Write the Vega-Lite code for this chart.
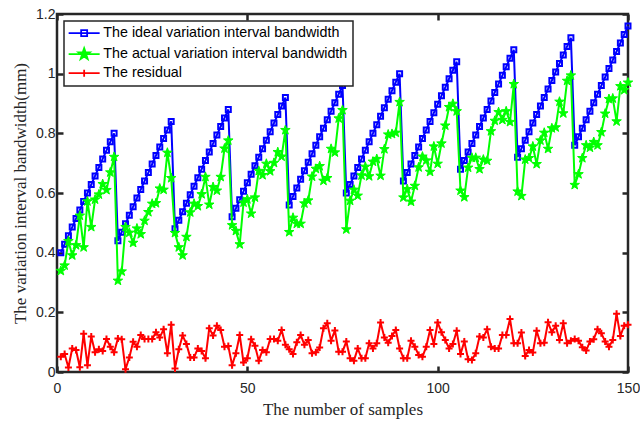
{
  "$schema": "https://vega.github.io/schema/vega-lite/v6.json",
  "autosize": {"type": "none"},
  "padding": {"left": 57, "top": 14, "right": 12, "bottom": 51},
  "width": 571,
  "height": 358,
  "background": "white",
  "data": {"values": [
    {"n":1,"ideal":0.4,"actual":0.339,"residual":0.051},
    {"n":2,"ideal":0.4286,"actual":0.357,"residual":0.060},
    {"n":3,"ideal":0.4571,"actual":0.439,"residual":0.015},
    {"n":4,"ideal":0.4857,"actual":0.391,"residual":0.079},
    {"n":5,"ideal":0.5143,"actual":0.425,"residual":0.074},
    {"n":6,"ideal":0.5429,"actual":0.524,"residual":0.016},
    {"n":7,"ideal":0.5714,"actual":0.418,"residual":0.128},
    {"n":8,"ideal":0.6,"actual":0.572,"residual":0.023},
    {"n":9,"ideal":0.6286,"actual":0.486,"residual":0.119},
    {"n":10,"ideal":0.6571,"actual":0.578,"residual":0.066},
    {"n":11,"ideal":0.6857,"actual":0.595,"residual":0.076},
    {"n":12,"ideal":0.7143,"actual":0.630,"residual":0.070},
    {"n":13,"ideal":0.7429,"actual":0.610,"residual":0.111},
    {"n":14,"ideal":0.7714,"actual":0.669,"residual":0.085},
    {"n":15,"ideal":0.8,"actual":0.721,"residual":0.066},
    {"n":16,"ideal":0.44,"actual":0.306,"residual":0.112},
    {"n":17,"ideal":0.4686,"actual":0.337,"residual":0.110},
    {"n":18,"ideal":0.4971,"actual":0.486,"residual":0.009},
    {"n":19,"ideal":0.5257,"actual":0.467,"residual":0.049},
    {"n":20,"ideal":0.5543,"actual":0.433,"residual":0.101},
    {"n":21,"ideal":0.5829,"actual":0.481,"residual":0.085},
    {"n":22,"ideal":0.6114,"actual":0.462,"residual":0.124},
    {"n":23,"ideal":0.64,"actual":0.507,"residual":0.111},
    {"n":24,"ideal":0.6686,"actual":0.536,"residual":0.111},
    {"n":25,"ideal":0.6971,"actual":0.564,"residual":0.111},
    {"n":26,"ideal":0.7257,"actual":0.566,"residual":0.133},
    {"n":27,"ideal":0.7543,"actual":0.615,"residual":0.116},
    {"n":28,"ideal":0.7829,"actual":0.611,"residual":0.143},
    {"n":29,"ideal":0.8114,"actual":0.735,"residual":0.063},
    {"n":30,"ideal":0.84,"actual":0.650,"residual":0.158},
    {"n":31,"ideal":0.48,"actual":0.466,"residual":0.012},
    {"n":32,"ideal":0.5086,"actual":0.418,"residual":0.076},
    {"n":33,"ideal":0.5371,"actual":0.391,"residual":0.122},
    {"n":34,"ideal":0.5657,"actual":0.453,"residual":0.094},
    {"n":35,"ideal":0.5943,"actual":0.535,"residual":0.049},
    {"n":36,"ideal":0.6229,"actual":0.564,"residual":0.049},
    {"n":37,"ideal":0.6514,"actual":0.556,"residual":0.079},
    {"n":38,"ideal":0.68,"actual":0.596,"residual":0.070},
    {"n":39,"ideal":0.7086,"actual":0.654,"residual":0.046},
    {"n":40,"ideal":0.7371,"actual":0.561,"residual":0.147},
    {"n":41,"ideal":0.7657,"actual":0.620,"residual":0.122},
    {"n":42,"ideal":0.7943,"actual":0.608,"residual":0.155},
    {"n":43,"ideal":0.8229,"actual":0.654,"residual":0.141},
    {"n":44,"ideal":0.8514,"actual":0.749,"residual":0.085},
    {"n":45,"ideal":0.88,"actual":0.776,"residual":0.087},
    {"n":46,"ideal":0.52,"actual":0.492,"residual":0.023},
    {"n":47,"ideal":0.5486,"actual":0.473,"residual":0.063},
    {"n":48,"ideal":0.5771,"actual":0.428,"residual":0.124},
    {"n":49,"ideal":0.6057,"actual":0.568,"residual":0.032},
    {"n":50,"ideal":0.6343,"actual":0.579,"residual":0.046},
    {"n":51,"ideal":0.6629,"actual":0.531,"residual":0.110},
    {"n":52,"ideal":0.6914,"actual":0.585,"residual":0.088},
    {"n":53,"ideal":0.72,"actual":0.674,"residual":0.038},
    {"n":54,"ideal":0.7486,"actual":0.660,"residual":0.074},
    {"n":55,"ideal":0.7771,"actual":0.698,"residual":0.066},
    {"n":56,"ideal":0.8057,"actual":0.673,"residual":0.111},
    {"n":57,"ideal":0.8343,"actual":0.701,"residual":0.111},
    {"n":58,"ideal":0.8629,"actual":0.737,"residual":0.105},
    {"n":59,"ideal":0.8914,"actual":0.722,"residual":0.141},
    {"n":60,"ideal":0.92,"actual":0.811,"residual":0.091},
    {"n":61,"ideal":0.56,"actual":0.469,"residual":0.076},
    {"n":62,"ideal":0.5886,"actual":0.517,"residual":0.060},
    {"n":63,"ideal":0.6171,"actual":0.497,"residual":0.100},
    {"n":64,"ideal":0.6457,"actual":0.497,"residual":0.124},
    {"n":65,"ideal":0.6743,"actual":0.565,"residual":0.091},
    {"n":66,"ideal":0.7029,"actual":0.575,"residual":0.107},
    {"n":67,"ideal":0.7314,"actual":0.655,"residual":0.063},
    {"n":68,"ideal":0.76,"actual":0.681,"residual":0.066},
    {"n":69,"ideal":0.7886,"actual":0.690,"residual":0.082},
    {"n":70,"ideal":0.8171,"actual":0.641,"residual":0.147},
    {"n":71,"ideal":0.8457,"actual":0.650,"residual":0.163},
    {"n":72,"ideal":0.8743,"actual":0.748,"residual":0.105},
    {"n":73,"ideal":0.9029,"actual":0.736,"residual":0.139},
    {"n":74,"ideal":0.9314,"actual":0.850,"residual":0.068},
    {"n":75,"ideal":0.96,"actual":0.878,"residual":0.068},
    {"n":76,"ideal":0.6,"actual":0.478,"residual":0.102},
    {"n":77,"ideal":0.6286,"actual":0.574,"residual":0.046},
    {"n":78,"ideal":0.6571,"actual":0.611,"residual":0.038},
    {"n":79,"ideal":0.6857,"actual":0.591,"residual":0.079},
    {"n":80,"ideal":0.7143,"actual":0.659,"residual":0.046},
    {"n":81,"ideal":0.7429,"actual":0.688,"residual":0.046},
    {"n":82,"ideal":0.7714,"actual":0.656,"residual":0.096},
    {"n":83,"ideal":0.8,"actual":0.705,"residual":0.079},
    {"n":84,"ideal":0.8286,"actual":0.714,"residual":0.096},
    {"n":85,"ideal":0.8571,"actual":0.658,"residual":0.166},
    {"n":86,"ideal":0.8857,"actual":0.747,"residual":0.116},
    {"n":87,"ideal":0.9143,"actual":0.796,"residual":0.098},
    {"n":88,"ideal":0.9429,"actual":0.798,"residual":0.121},
    {"n":89,"ideal":0.9714,"actual":0.802,"residual":0.141},
    {"n":90,"ideal":1.0,"actual":0.905,"residual":0.079},
    {"n":91,"ideal":0.64,"actual":0.585,"residual":0.046},
    {"n":92,"ideal":0.6686,"actual":0.613,"residual":0.046},
    {"n":93,"ideal":0.6971,"actual":0.571,"residual":0.105},
    {"n":94,"ideal":0.7257,"actual":0.624,"residual":0.085},
    {"n":95,"ideal":0.7543,"actual":0.686,"residual":0.057},
    {"n":96,"ideal":0.7829,"actual":0.722,"residual":0.051},
    {"n":97,"ideal":0.8114,"actual":0.709,"residual":0.085},
    {"n":98,"ideal":0.84,"actual":0.671,"residual":0.141},
    {"n":99,"ideal":0.8686,"actual":0.756,"residual":0.094},
    {"n":100,"ideal":0.8971,"actual":0.698,"residual":0.166},
    {"n":101,"ideal":0.9257,"actual":0.766,"residual":0.133},
    {"n":102,"ideal":0.9543,"actual":0.826,"residual":0.107},
    {"n":103,"ideal":0.9829,"actual":0.888,"residual":0.079},
    {"n":104,"ideal":1.0114,"actual":0.899,"residual":0.094},
    {"n":105,"ideal":1.04,"actual":0.874,"residual":0.138},
    {"n":106,"ideal":0.68,"actual":0.608,"residual":0.060},
    {"n":107,"ideal":0.7086,"actual":0.586,"residual":0.102},
    {"n":108,"ideal":0.7371,"actual":0.685,"residual":0.043},
    {"n":109,"ideal":0.7657,"actual":0.718,"residual":0.040},
    {"n":110,"ideal":0.7943,"actual":0.718,"residual":0.063},
    {"n":111,"ideal":0.8229,"actual":0.680,"residual":0.119},
    {"n":112,"ideal":0.8514,"actual":0.712,"residual":0.116},
    {"n":113,"ideal":0.88,"actual":0.708,"residual":0.143},
    {"n":114,"ideal":0.9086,"actual":0.807,"residual":0.085},
    {"n":115,"ideal":0.9371,"actual":0.842,"residual":0.079},
    {"n":116,"ideal":0.9657,"actual":0.871,"residual":0.079},
    {"n":117,"ideal":0.9943,"actual":0.845,"residual":0.124},
    {"n":118,"ideal":1.0229,"actual":0.874,"residual":0.124},
    {"n":119,"ideal":1.0514,"actual":0.838,"residual":0.178},
    {"n":120,"ideal":1.08,"actual":0.965,"residual":0.096},
    {"n":121,"ideal":0.72,"actual":0.605,"residual":0.096},
    {"n":122,"ideal":0.7486,"actual":0.590,"residual":0.132},
    {"n":123,"ideal":0.7771,"actual":0.712,"residual":0.054},
    {"n":124,"ideal":0.8057,"actual":0.717,"residual":0.074},
    {"n":125,"ideal":0.8343,"actual":0.756,"residual":0.065},
    {"n":126,"ideal":0.8629,"actual":0.697,"residual":0.138},
    {"n":127,"ideal":0.8914,"actual":0.776,"residual":0.096},
    {"n":128,"ideal":0.92,"actual":0.802,"residual":0.098},
    {"n":129,"ideal":0.9486,"actual":0.748,"residual":0.167},
    {"n":130,"ideal":0.9771,"actual":0.817,"residual":0.133},
    {"n":131,"ideal":1.0057,"actual":0.820,"residual":0.155},
    {"n":132,"ideal":1.0343,"actual":0.906,"residual":0.107},
    {"n":133,"ideal":1.0629,"actual":0.867,"residual":0.163},
    {"n":134,"ideal":1.0914,"actual":0.976,"residual":0.096},
    {"n":135,"ideal":1.12,"actual":0.994,"residual":0.105},
    {"n":136,"ideal":0.76,"actual":0.627,"residual":0.111},
    {"n":137,"ideal":0.7886,"actual":0.663,"residual":0.105},
    {"n":138,"ideal":0.8171,"actual":0.717,"residual":0.083},
    {"n":139,"ideal":0.8457,"actual":0.760,"residual":0.072},
    {"n":140,"ideal":0.8743,"actual":0.752,"residual":0.102},
    {"n":141,"ideal":0.9029,"actual":0.771,"residual":0.110},
    {"n":142,"ideal":0.9314,"actual":0.760,"residual":0.143},
    {"n":143,"ideal":0.96,"actual":0.804,"residual":0.130},
    {"n":144,"ideal":0.9886,"actual":0.866,"residual":0.102},
    {"n":145,"ideal":1.0171,"actual":0.915,"residual":0.085},
    {"n":146,"ideal":1.0457,"actual":0.917,"residual":0.107},
    {"n":147,"ideal":1.0743,"actual":0.840,"residual":0.195},
    {"n":148,"ideal":1.1029,"actual":0.958,"residual":0.121},
    {"n":149,"ideal":1.1314,"actual":0.945,"residual":0.155},
    {"n":150,"ideal":1.16,"actual":0.970,"residual":0.158}
  ]},
  "transform": [{"fold": ["ideal", "actual", "residual"], "as": ["series", "value"]}],
  "config": {
    "view": {"stroke": "#262626", "strokeWidth": 2.5},
    "axis": {
      "domain": false, "grid": false, "labelFlush": false,
      "tickColor": "#262626", "tickWidth": 2.5, "tickSize": -6,
      "labelFont": "Liberation Sans", "labelFontSize": 14, "labelColor": "#262626",
      "titleFont": "Liberation Serif", "titleFontSize": 17, "titleFontWeight": "normal", "titleColor": "#262626"
    }
  },
  "resolve": {"axis": {"x": "independent", "y": "independent"}},
  "layer": [
    {
      "transform": [{"filter": "datum.series === 'ideal'"}],
      "mark": {"type": "line", "strokeWidth": 2},
      "encoding": {
        "x": {"field": "n", "type": "quantitative", "scale": {"domain": [0, 150], "nice": false},
              "axis": {"values": [0, 50, 100, 150], "title": "The number of samples", "labelPadding": 15, "titlePadding": 6}},
        "y": {"field": "value", "type": "quantitative", "scale": {"domain": [0, 1.2], "nice": false},
              "axis": {"values": [0, 0.2, 0.4, 0.6, 0.8, 1, 1.2], "format": "~g", "title": "The variation interval bandwidth(mm)", "labelPadding": 8, "titlePadding": 6}},
        "color": {"field": "series", "type": "nominal",
          "scale": {"domain": ["ideal", "actual", "residual"], "range": ["#0000ff", "#00ff00", "#ff0000"]},
          "legend": {
            "title": null, "orient": "top-left", "offset": 7, "padding": 5,
            "strokeColor": "#262626", "fillColor": "white",
            "symbolSize": 100, "symbolOffset": 8, "symbolStrokeWidth": 1.5,
            "labelOffset": 12, "labelFont": "Liberation Sans", "labelFontSize": 14.3, "labelColor": "black", "labelLimit": 400,
            "rowPadding": 3,
            "labelExpr": "datum.label === 'ideal' ? 'The ideal variation interval bandwidth' : datum.label === 'actual' ? 'The actual variation interval bandwidth' : 'The residual'",
            "encode": {
              "symbols": {"update": {
                "shape": {"signal": "datum.value === 'ideal' ? 'M-3.1,0L3.1,0M-0.6,-0.6L0.6,-0.6L0.6,0.6L-0.6,0.6Z' : datum.value === 'actual' ? 'M-3.1,0L3.1,0M0,-1.2L0.282,-0.389L1.141,-0.371L0.456,0.149L0.706,0.971L0,0.48L-0.706,0.971L-0.456,0.149L-1.141,-0.371L-0.282,-0.389Z' : 'M-3.1,0L3.1,0M0,-0.7L0,0.7'"},
                "fill": {"signal": "datum.value === 'actual' ? '#00ff00' : 'transparent'"},
                "strokeWidth": {"value": 1.8}
              }},
              "legend": {"update": {"strokeWidth": {"value": 1.5}}}
            }
          }}
      }
    },
    {
      "transform": [{"filter": "datum.series === 'ideal'"}],
      "mark": {"type": "point", "shape": "square", "filled": false, "stroke": "#0000ff", "strokeWidth": 2, "size": 25, "opacity": 1},
      "encoding": {
        "x": {"field": "n", "type": "quantitative", "axis": null},
        "y": {"field": "value", "type": "quantitative", "axis": null}
      }
    },
    {
      "transform": [{"filter": "datum.series === 'actual'"}],
      "mark": {"type": "line", "strokeWidth": 2},
      "encoding": {
        "x": {"field": "n", "type": "quantitative", "axis": null},
        "y": {"field": "value", "type": "quantitative", "axis": null},
        "color": {"field": "series", "type": "nominal"}
      }
    },
    {
      "transform": [{"filter": "datum.series === 'actual'"}],
      "mark": {"type": "point", "shape": "M0,-1L0.235,-0.324L0.951,-0.309L0.380,0.124L0.588,0.809L0,0.4L-0.588,0.809L-0.380,0.124L-0.951,-0.309L-0.235,-0.324Z", "filled": true, "fill": "#00ff00", "stroke": "#00ff00", "strokeWidth": 1, "size": 100, "opacity": 1},
      "encoding": {
        "x": {"field": "n", "type": "quantitative", "axis": null},
        "y": {"field": "value", "type": "quantitative", "axis": null}
      }
    },
    {
      "transform": [{"filter": "datum.series === 'residual'"}],
      "mark": {"type": "line", "strokeWidth": 2},
      "encoding": {
        "x": {"field": "n", "type": "quantitative", "axis": null},
        "y": {"field": "value", "type": "quantitative", "axis": null},
        "color": {"field": "series", "type": "nominal"}
      }
    },
    {
      "transform": [{"filter": "datum.series === 'residual'"}],
      "mark": {"type": "point", "shape": "M-1,0L1,0M0,-1L0,1", "filled": false, "stroke": "#ff0000", "strokeWidth": 2, "size": 49, "opacity": 1},
      "encoding": {
        "x": {"field": "n", "type": "quantitative", "axis": {"orient": "top", "values": [0, 50, 100, 150], "labels": false, "title": null}},
        "y": {"field": "value", "type": "quantitative", "axis": {"orient": "right", "values": [0, 0.2, 0.4, 0.6, 0.8, 1, 1.2], "labels": false, "title": null}}
      }
    }
  ]
}
